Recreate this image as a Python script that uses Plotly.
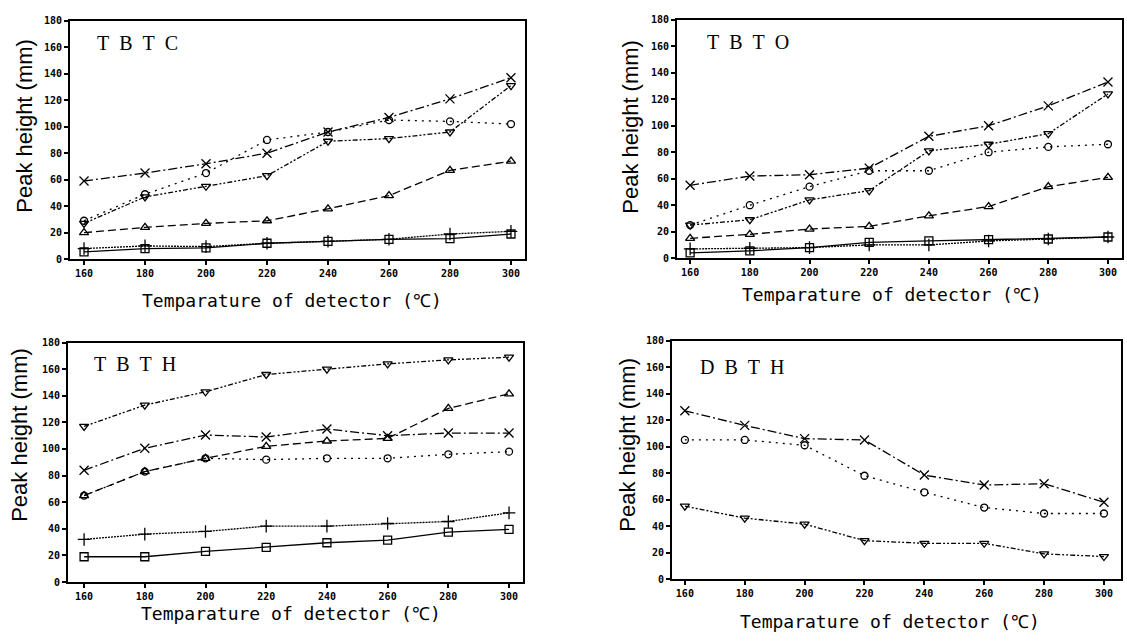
import plotly.graph_objects as go

temps = [160, 180, 200, 220, 240, 260, 280, 300]
x_ticks = [160, 180, 200, 220, 240, 260, 280, 300]
y_ticks = [0, 20, 40, 60, 80, 100, 120, 140, 160, 180]

# TBTC
tbtc_square = [5.5, 8, 8.5, 12, 13.5, 15, 15.5, 19]
tbtc_plus = [8, 10, 9.5, 12, 13.5, 15, 19, 21]
tbtc_tri_up = [20, 24, 27, 29, 38, 48, 67, 74]
tbtc_circle = [29, 49, 65, 90, 96, 105, 104, 102]
tbtc_tri_down = [27, 47, 55, 63, 89, 91, 96, 131]
tbtc_x = [59, 65, 72, 80, 96, 107, 121, 137]

# TBTO
tbto_square = [4, 5.5, 8, 12, 13, 14, 14.5, 16]
tbto_plus = [7, 7.5, 8, 10, 10, 13, 14.5, 16]
tbto_tri_up = [15, 18, 22, 24, 32, 39, 54, 61]
tbto_circle = [25, 40, 54, 66, 66, 80, 84, 86]
tbto_tri_down = [25, 29, 44, 51, 81, 86, 94, 124]
tbto_x = [55, 62, 63, 68, 92, 100, 115, 133]

# TBTH
tbth_square = [19, 19, 23, 26, 29.5, 31.5, 37.5, 39.5]
tbth_plus = [32, 36, 38, 42, 42, 44, 45.5, 52]
tbth_tri_up = [65, 83, 93, 102, 106, 108, 130.5, 141.5]
tbth_circle = [65, 83, 93, 92, 93, 93, 96, 98]
tbth_x = [84, 100.5, 110.5, 109, 115, 110, 112, 112]
tbth_tri_down = [117, 133, 143, 156, 160, 164, 167, 169]

# DBTH
dbth_x = [127, 116, 106, 105, 78.5, 71, 72, 58]
dbth_circle = [105, 105, 101, 78, 65.5, 54, 49.5, 49.5]
dbth_tri_down = [55, 46, 41.5, 29, 27, 27, 19, 17]

panel_names = ["T\u2002B\u2002T\u2002C", "T\u2002B\u2002T\u2002O", "T\u2002B\u2002T\u2002H", "D\u2002B\u2002T\u2002H"]
x_title = "Temparature of detector (\u2103)"
y_title = "Peak height (mm)"

styles = {
    "square": dict(symbol="square-open", dash="solid", size=8),
    "plus": dict(symbol="cross-thin", dash="2px,1px", size=9),
    "tri_up": dict(symbol="triangle-up-open", dash="8px,4px", size=8),
    "circle": dict(symbol="circle-open", dash="2px,5px", size=7),
    "tri_down": dict(symbol="triangle-down-open", dash="5px,2px,2px,2px,2px,2px", size=8),
    "x": dict(symbol="x-thin", dash="9px,3px,2px,3px", size=9),
}

panels = [
    dict(series={"square": tbtc_square, "plus": tbtc_plus, "tri_up": tbtc_tri_up,
                 "circle": tbtc_circle, "tri_down": tbtc_tri_down, "x": tbtc_x},
         xdom=[70, 525], ytop=15, ybot=258, xr=[155.4, 304.6],
         label=(95, 38), xt=(292, 300), yt=(25, 122)),
    dict(series={"square": tbto_square, "plus": tbto_plus, "tri_up": tbto_tri_up,
                 "circle": tbto_circle, "tri_down": tbto_tri_down, "x": tbto_x},
         xdom=[677, 1122], ytop=14, ybot=257, xr=[155.6, 304.7],
         label=(705, 37), xt=(892, 294), yt=(631, 123)),
    dict(series={"square": tbth_square, "plus": tbth_plus, "tri_up": tbth_tri_up,
                 "circle": tbth_circle, "x": tbth_x, "tri_down": tbth_tri_down},
         xdom=[68, 523], ytop=343, ybot=587, xr=[154.7, 304.6],
         label=(92, 365), xt=(291, 619), yt=(20, 437)),
    dict(series={"x": dbth_x, "circle": dbth_circle, "tri_down": dbth_tri_down},
         xdom=[672, 1121], ytop=341, ybot=584, xr=[155.7, 305.7],
         label=(698, 368), xt=(890, 627), yt=(628, 447)),
]

W, H = 1127, 641
fig = go.Figure()
annotations = []
tickfont = dict(family="DejaVu Sans Mono", size=10, color="black", weight="bold")

for i, p in enumerate(panels):
    idx = "" if i == 0 else str(i + 1)
    xa, ya = "x" + idx, "y" + idx
    for key, vals in p["series"].items():
        st = styles[key]
        fig.add_trace(go.Scatter(
            x=temps, y=vals, mode="lines+markers", xaxis=xa, yaxis=ya,
            showlegend=False,
            line=dict(color="black", width=1.3, dash=st["dash"]),
            marker=dict(symbol=st["symbol"], size=st["size"], color="black",
                        line=dict(color="black", width=1.3)),
        ))
    axis_common = dict(showline=True, mirror=True, linecolor="black", linewidth=2,
                       ticks="outside", ticklen=4, tickwidth=1.5, tickcolor="black",
                       showgrid=False, zeroline=False, tickfont=tickfont)
    fig.layout["xaxis" + idx] = dict(
        domain=[p["xdom"][0] / W, p["xdom"][1] / W], range=p["xr"],
        tickvals=x_ticks, anchor=ya, **axis_common)
    fig.layout["yaxis" + idx] = dict(
        domain=[1 - p["ybot"] / H, 1 - p["ytop"] / H], range=[0, 180],
        tickvals=y_ticks, anchor=xa, **axis_common)
    annotations.append(dict(
        text=panel_names[i], x=p["label"][0] / W, y=1 - p["label"][1] / H,
        xref="paper", yref="paper", xanchor="left", yanchor="middle", showarrow=False,
        font=dict(family="Liberation Serif", size=20, color="black")))
    annotations.append(dict(
        text=x_title, x=p["xt"][0] / W, y=1 - p["xt"][1] / H,
        xref="paper", yref="paper", xanchor="center", yanchor="middle", showarrow=False,
        font=dict(family="DejaVu Sans Mono", size=18, color="black")))
    annotations.append(dict(
        text=y_title, x=p["yt"][0] / W, y=1 - p["yt"][1] / H, textangle=-90,
        xref="paper", yref="paper", xanchor="center", yanchor="middle", showarrow=False,
        font=dict(family="Liberation Sans", size=22, color="black")))

fig.update_layout(
    width=W, height=H, margin=dict(l=0, r=0, t=0, b=0),
    paper_bgcolor="white", plot_bgcolor="white",
    annotations=annotations,
)

fig.write_html("out.html")
